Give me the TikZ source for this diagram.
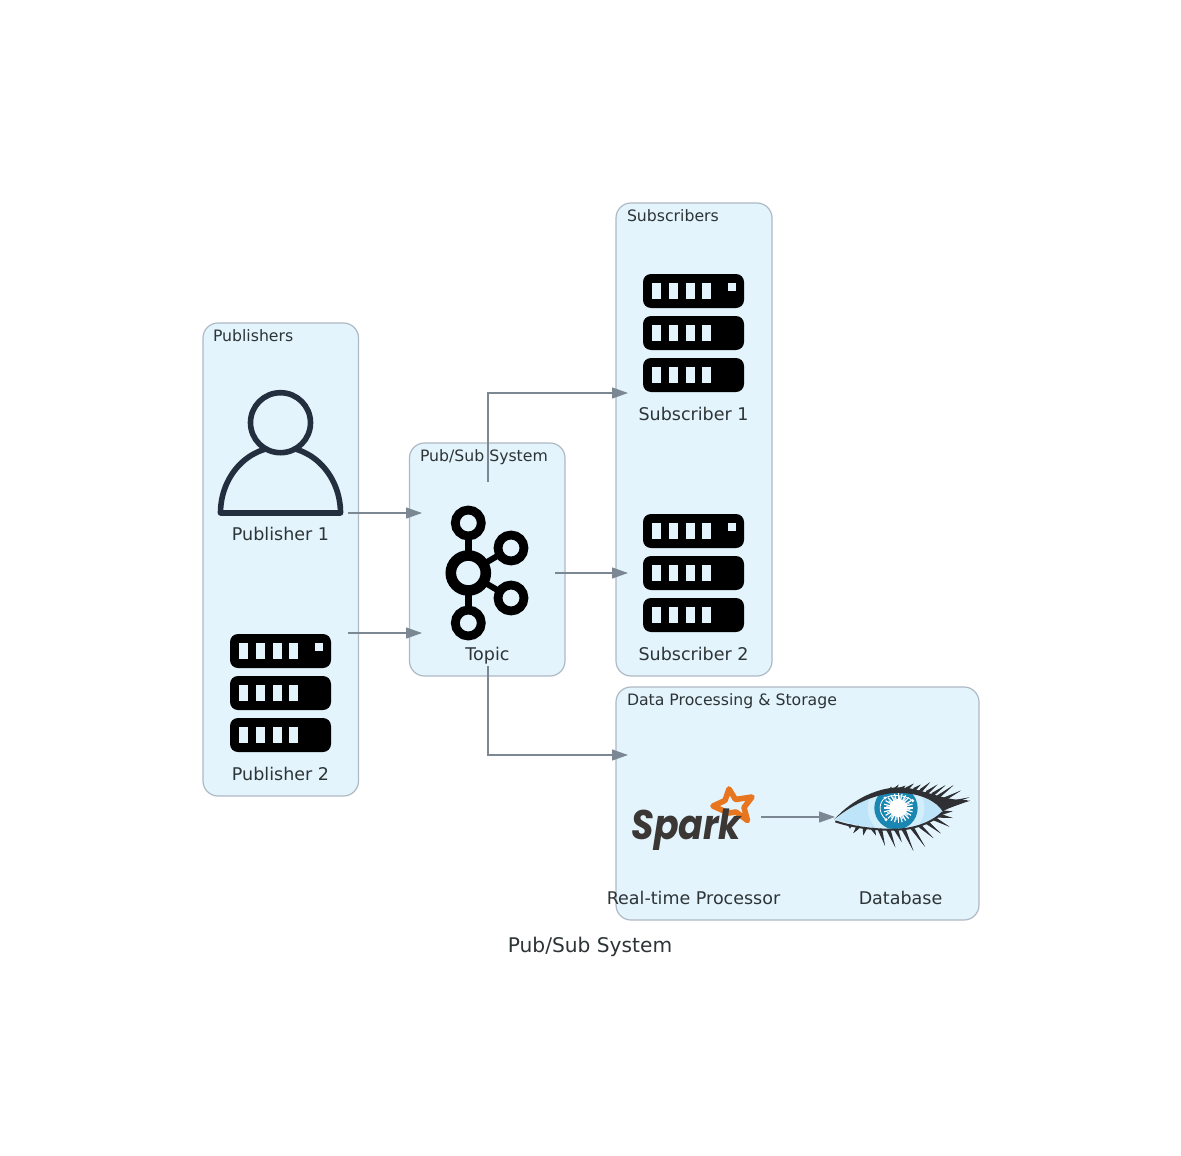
\documentclass[tikz,border=0pt]{standalone}
\usepackage{fontspec}
\setmainfont{DejaVu Sans}
\newfontfamily\sparkfont{Poppins}
\usetikzlibrary{positioning}
\usetikzlibrary{arrows.meta}
\definecolor{groupbg}{HTML}{E3F4FD}
\definecolor{groupline}{HTML}{AEB9C4}
\definecolor{flowline}{HTML}{7B8894}
\definecolor{inktext}{HTML}{2D3436}
\definecolor{personink}{HTML}{232F3E}
\definecolor{sparkorange}{HTML}{E8761E}
\definecolor{sparkgrey}{HTML}{3A3735}
\definecolor{lashink}{HTML}{2E3033}
\definecolor{eyepale}{HTML}{BDE4F8}
\definecolor{eyering}{HTML}{D3EEFB}
\definecolor{irisblue}{HTML}{1A86B2}
\tikzset{
  every node/.style={
    align=center,
    draw=none,
    text=inktext,
    outer sep=0pt,
  },
  groupbox/.style={
    draw=groupline,
    fill=groupbg,
    line width=1.2pt,
    rounded corners=15pt,
    inner sep=0pt,
  },
  grouplbl/.style={
    anchor=base west,
    inner sep=0pt,
    font=\fontsize{15.7}{18}\selectfont,
  },
  iconbox/.style={
    minimum width=135pt,
    minimum height=120pt,
    inner sep=0pt,
  },
  iconlbl/.style={
    below=27.5pt of #1.south,
    anchor=base,
    font=\fontsize{17.5}{19}\selectfont,
  },
  flow/.style={
    draw=flowline,
    line width=1.2pt,
    shorten >=-2pt,
    -{Triangle[length=16pt,width=11pt,fill=flowline]},
  },
  serverrack/.pic={
    \foreach \py in {-59,-17,25} {
      \fill[black,rounded corners=8pt] (-50.5,\py) rectangle +(101,34);
      \foreach \sx in {-42,-25,-8,8.5}
        \fill[groupbg] (\sx,\py+8.7) rectangle +(9,16.6);
    }
    \fill[groupbg] (34,-50.3) rectangle +(8.5,8.6);
  },
  personicon/.pic={
    \draw[personink,line width=5.6pt,line join=round]
      (-60,60) arc[start angle=180,end angle=360,x radius=60,y radius=66] -- cycle;
    \draw[personink,fill=groupbg,line width=5.6pt] (0,-30.3) circle (30);
  },
  brokericon/.pic={
    \draw[black,line width=7.5pt] (-19.2,-50) -- (-19.2,50);
    \draw[black,line width=6pt] (23.5,-25) -- (-19.2,0) -- (23.5,25);
    \foreach \hx/\hy in {-19.2/-50,-19.2/50,23.5/-25,23.5/25}
      \draw[black,fill=groupbg,line width=8.8pt] (\hx,\hy) circle (13);
    \draw[black,fill=groupbg,line width=10.6pt] (-19.2,0) circle (17.5);
  },
  sparkstar/.pic={
    \draw[sparkorange,line width=5.6pt,line join=round]
      (35.5,-28) -- (42,-17.5) -- (58.5,-20) -- (50.5,-9.5) -- (54,3.5)
      -- (42.5,-5) -- (35,-4) -- (19.5,-11) -- (31.5,-16.5) -- cycle;
  },
  eyeicon/.pic={
    \begin{scope}[shift={(-70.5,-39)},scale=1/3]
      % lashes, given in steps of a third of a pixel
      \foreach \bx/\by/\tx/\ty in {
        170/45/185/26,188/40/206/20,208/36/226/23,228/35/251/17,250/37/272/20,
        270/40/300/13,288/46/322/20,305/52/346/22,320/60/370/22,335/68/392/38,
        345/78/418/58,350/85/420/68,
        60/140/60/152,85/147/70/165,105/150/100/172,128/152/138/172,
        150/155/165/203,175/155/196/208,198/155/215/192,220/152/250/218,
        245/148/285/206,268/142/310/180,290/132/332/166,310/120/358/146,
        325/112/368/120,335/104/368/100} {
        \fill[lashink] (\bx-7,\by) -- (\bx+7,\by) -- (\tx,\ty) -- cycle;
        \fill[lashink] (\bx,\by-7) -- (\bx,\by+7) -- (\tx,\ty) -- cycle;
      }
      % white of the eye
      \begin{scope}
        \clip (18,125) .. controls (70,70) and (150,40) .. (210,42)
          .. controls (270,42) and (320,75) .. (338,100)
          .. controls (300,140) and (240,155) .. (180,152)
          .. controls (110,150) and (50,135) .. cycle;
        \fill[eyepale] (0,0) rectangle (420,234);
        \fill[eyering] (198,90) circle (85);
        \fill[irisblue] (198,90) circle (65);
        \foreach \ang in {0,15,...,345}
          \draw[white,line width=1.2pt] (205,90) -- ++(\ang:44);
        \foreach \ang in {7,37,...,337}
          \draw[white,line width=.8pt] (205,90) -- ++(\ang:36);
        \fill[white] (205,90) circle (27);
        \draw[white,line width=.8pt] (168,125) .. controls (140,100) and (150,70) .. (165,60)
          .. controls (185,48) and (225,50) .. (248,68);
        \foreach \dx/\dy in {165/60,248/68,168/125}
          \fill[white] (\dx,\dy) circle (5);
      \end{scope}
      % lids
      \fill[lashink] (12,125) .. controls (70,60) and (150,26) .. (215,28)
        .. controls (280,32) and (340,70) .. (415,66)
        .. controls (385,82) and (365,85) .. (338,100)
        .. controls (320,70) and (270,45) .. (210,45)
        .. controls (150,42) and (70,75) .. cycle;
      \draw[lashink,line width=2pt] (16,130) .. controls (60,145) and (120,155) .. (180,155)
        .. controls (240,157) and (300,140) .. (338,103);
    \end{scope}
  },
}

\begin{document}
\begin{tikzpicture}[x=1pt,y=-1pt]
    \useasboundingbox (0,0) rectangle (1181,1156);
    \node[groupbox,minimum width=155.5pt,minimum height=473pt] (pubgroup) at (280.75,559.5) {};
    \node[groupbox,minimum width=155.5pt,minimum height=233pt] (topicgroup) at (487.25,559.5) {};
    \node[groupbox,minimum width=156pt,minimum height=473pt] (subgroup) at (694,439.5) {};
    \node[groupbox,minimum width=363pt,minimum height=233pt] (datagroup) at (797.5,803.5) {};
    \node[grouplbl] (pubgrouplbl) at (213,341) {Publishers};
    \node[grouplbl] (topicgrouplbl) at (420,461) {Pub/Sub System};
    \node[grouplbl] (subgrouplbl) at (627,221) {Subscribers};
    \node[grouplbl] (datagrouplbl) at (627,705) {Data Processing \& Storage};

    \node[iconbox] (pub1) at (280.5,453) {};
    \node[iconbox] (pub2) at (280.5,693) {};
    \node[iconbox] (topic) at (487.5,573) {};
    \node[iconbox] (sub1) at (693.5,333) {};
    \node[iconbox] (sub2) at (693.5,573) {};
    \node[iconbox] (spark) at (693.5,817) {};
    \node[iconbox] (eye) at (900.5,817) {};

    \pic at (pub1) {personicon};
    \pic at (pub2) {serverrack};
    \pic at (topic) {brokericon};
    \pic at (sub1) {serverrack};
    \pic at (sub2) {serverrack};
    \pic at (spark) {sparkstar};
    \pic at (eye) {eyeicon};
    \node[text=sparkgrey,inner sep=0pt,transform shape,yscale=1.14,
      font=\sparkfont\bfseries\itshape\fontsize{36.3}{40}\selectfont] (sparkword) at (686.5,830) {Spark};

    \node[iconlbl=pub1] (pub1lbl) {Publisher 1};
    \node[iconlbl=pub2] (pub2lbl) {Publisher 2};
    \node[iconlbl=topic] (topiclbl) {Topic};
    \node[iconlbl=sub1] (sub1lbl) {Subscriber 1};
    \node[iconlbl=sub2] (sub2lbl) {Subscriber 2};
    \node[iconlbl=spark] (sparklbl) {Real-time Processor};
    \node[iconlbl=eye] (eyelbl) {Database};
    \node[font=\fontsize{20.2}{24}\selectfont] (title) at (590,946.5) {Pub/Sub System};

    \coordinate (topicup) at (488,482);
    \coordinate (topicdown) at (488,666);
    \coordinate (datain) at (626,755);
    \draw[flow] (pub1.south east) -- (topic.north west);
    \draw[flow] (pub2.north east) -- (topic.south west);
    \draw[flow] (topicup) |- (sub1.south west);
    \draw[flow] (topic.east) -- (sub2.west);
    \draw[flow] (topicdown) |- (datain);
    \draw[flow] (spark.east) -- (eye.west);
\end{tikzpicture}
\end{document}
